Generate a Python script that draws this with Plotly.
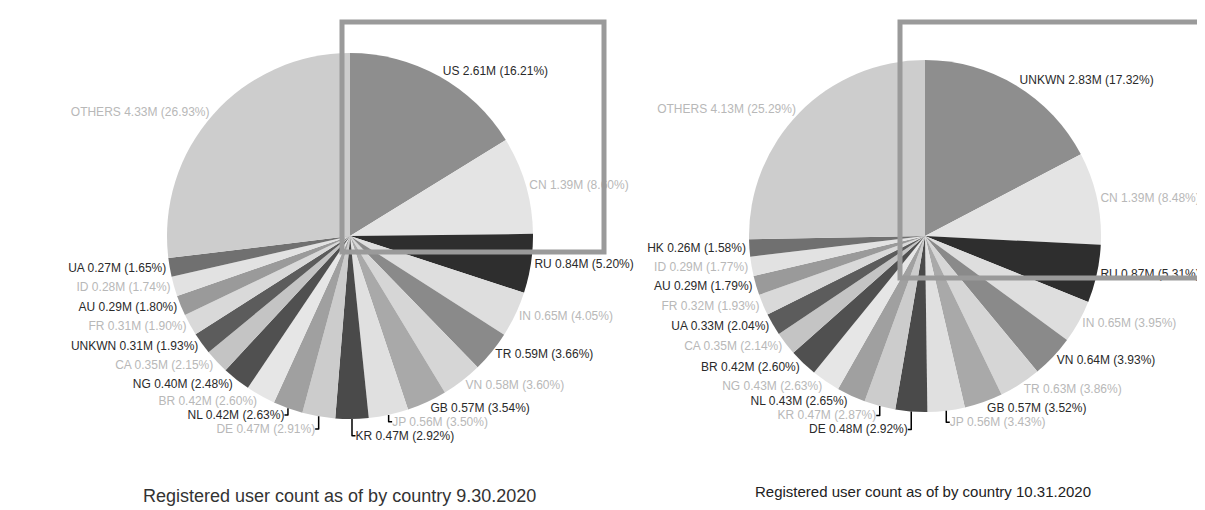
import plotly.graph_objects as go

# ---- data, values in millions ----
labels_sep = ["US", "CN", "RU", "IN", "TR", "VN", "GB", "JP", "KR", "DE",
              "NL", "BR", "NG", "CA", "UNKWN", "FR", "AU", "ID", "UA", "OTHERS"]
values_sep = [2.610, 1.385, 0.837, 0.652, 0.589, 0.580, 0.570, 0.564, 0.470, 0.468,
              0.423, 0.419, 0.400, 0.346, 0.311, 0.306, 0.290, 0.280, 0.265, 4.335]

labels_oct = ["UNKWN", "CN", "RU", "IN", "VN", "TR", "GB", "JP", "DE", "KR",
              "NL", "NG", "BR", "CA", "UA", "FR", "AU", "ID", "HK", "OTHERS"]
values_oct = [2.830, 1.385, 0.868, 0.645, 0.642, 0.630, 0.575, 0.560, 0.477, 0.469,
              0.433, 0.430, 0.425, 0.350, 0.333, 0.316, 0.292, 0.289, 0.258, 4.133]

title_sep = "Registered user count as of by country 9.30.2020"
title_oct = "Registered user count as of by country 10.31.2020"

# ---- styling ----
slice_colors = ["#8e8e8e", "#e4e4e4", "#2e2e2e", "#dedede", "#8a8a8a", "#d6d6d6",
                "#a9a9a9", "#e0e0e0", "#4a4a4a", "#cccccc", "#a0a0a0", "#e6e6e6",
                "#505050", "#c4c4c4", "#5c5c5c", "#d9d9d9", "#9a9a9a", "#e2e2e2",
                "#707070", "#cdcdcd"]
dark_slice = [True, False, True, False, True, False, True, False, True, False,
              True, False, True, False, True, False, True, False, True, False]
text_colors = ["#2a2a2a" if d else "#b8b8b8" for d in dark_slice]

W, H = 1205, 510
FONT = "Liberation Sans Narrow, Arial Narrow, Liberation Sans, Arial"


def dom(cx, cy, r):
    return dict(x=[(cx - r) / W, (cx + r) / W], y=[1 - (cy + r) / H, 1 - (cy - r) / H])


def pie(labels, values, cx, cy, r):
    return go.Pie(
        labels=labels, values=values, sort=False, direction="clockwise", rotation=0,
        domain=dom(cx, cy, r),
        marker=dict(colors=slice_colors, line=dict(width=0)),
        textposition="outside",
        texttemplate="%{label} %{value:.2f}M (%{percent:.2%})",
        outsidetextfont=dict(family=FONT, size=12, color=text_colors),
        showlegend=False, hoverinfo="label+value+percent",
    )


fig = go.Figure([pie(labels_sep, values_sep, 342, 228, 183),
                 pie(labels_oct, values_oct, 917, 228, 176)])

box_line = dict(color="#9a9a9a", width=5)
fig.update_layout(
    width=W, height=H, margin=dict(l=0, r=0, t=0, b=0),
    paper_bgcolor="white", plot_bgcolor="white",
    shapes=[
        dict(type="rect", xref="paper", yref="paper", x0=334 / W, x1=596 / W,
             y0=1 - 244 / H, y1=1 - 14 / H, line=box_line),
        dict(type="rect", xref="paper", yref="paper", x0=892 / W, x1=1194 / W,
             y0=1 - 270 / H, y1=1 - 14 / H, line=box_line),
    ],
    annotations=[
        dict(text=title_sep, x=331 / W, y=1 - 488 / H, xref="paper", yref="paper",
             xanchor="center", yanchor="middle", showarrow=False,
             font=dict(family="Liberation Sans, Arial", size=18, color="#333333")),
        dict(text=title_oct, x=915 / W, y=1 - 483 / H, xref="paper", yref="paper",
             xanchor="center", yanchor="middle", showarrow=False,
             font=dict(family="Liberation Sans, Arial", size=15, color="#222222")),
    ],
)

fig.write_html("out.html")
